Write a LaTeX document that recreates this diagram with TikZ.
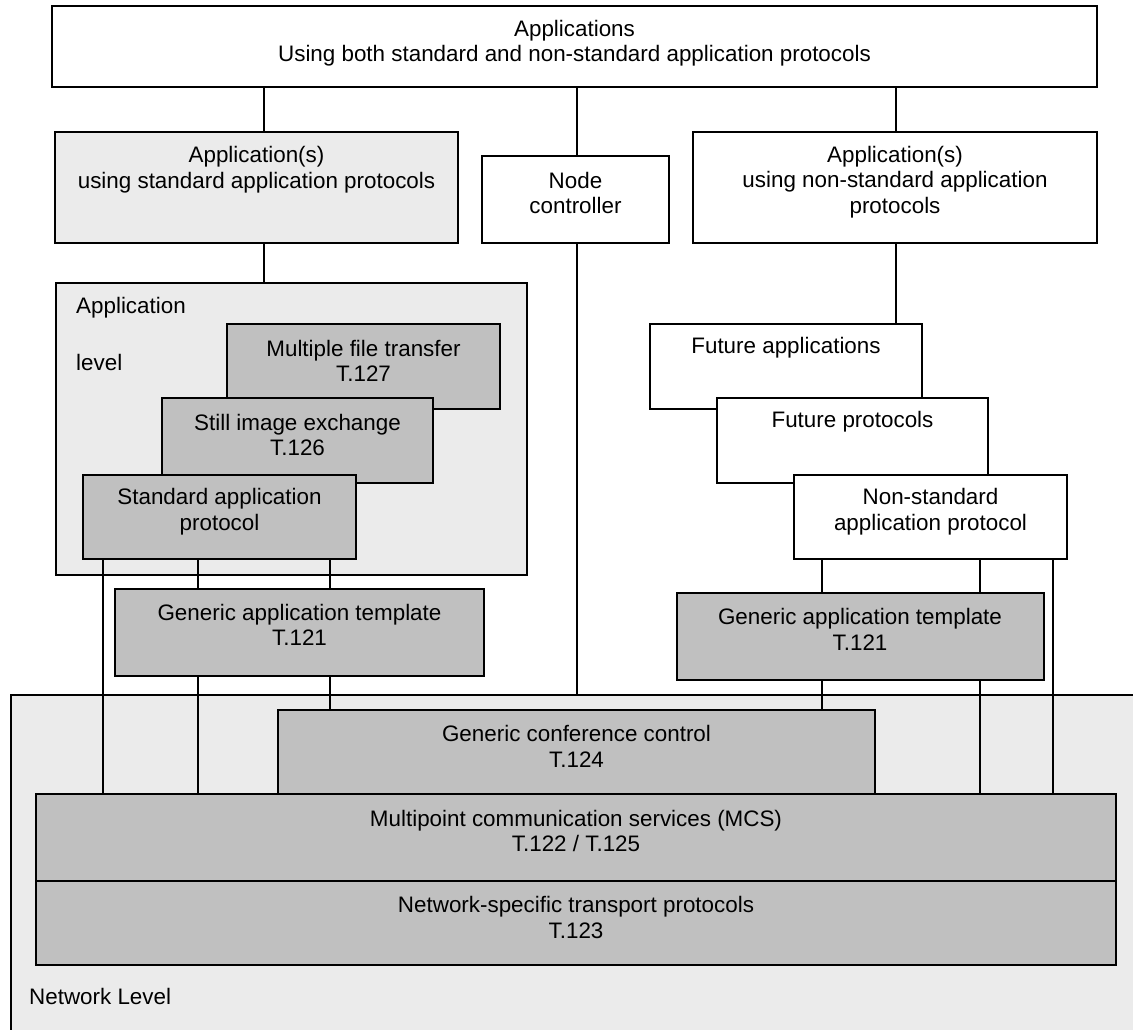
\documentclass[tikz,border=0pt]{standalone}
\usepackage{fontspec}
\setmainfont{Liberation Sans}
\definecolor{paleg}{HTML}{EBEBEB}
\definecolor{midg}{HTML}{C0C0C0}
\begin{document}
\begin{tikzpicture}[x=1pt,y=-1pt,
  box/.style={draw=black, line width=1.6pt, fill=white, inner sep=0pt, outer sep=0pt, anchor=north west},
  lite/.style={box, fill=paleg},
  dark/.style={box, fill=midg},
  txt/.style={font=\fontsize{22.4}{25.5}\selectfont, align=center, inner sep=0pt},
  link/.style={line width=1.6pt}]
\clip (0,0) rectangle (1133,1029);
\fill[white] (0,0) rectangle (1133,1029);

% columns used by the vertical connectors
\foreach \cx in {103,198,264,330,577,822,896,980,1053}
  \coordinate (X\cx) at (\cx,0);

% network level frame (runs off the right and bottom edges)
\node[lite, minimum width=1140pt, minimum height=360pt] (netlevel) at (11,695) {};
\node[txt, anchor=west] at (29,996) {Network Level};

% top row
\node[box, minimum width=1045pt, minimum height=81pt] (top) at (52,6) {};
\node[txt] at (574.5,43) {Applications\\Using both standard and non-standard application protocols};

\node[lite, minimum width=403pt, minimum height=111pt] (stdapp) at (55,132) {};
\node[txt] at (256.5,169.5) {Application(s)\\using standard application protocols};

\node[box, minimum width=187pt, minimum height=87pt] (nodectl) at (482,156) {};
\node[txt] at (575.5,193) {Node\\controller};

\node[box, minimum width=404pt, minimum height=111pt] (nsapp) at (693,132) {};
\node[txt] at (895,182) {Application(s)\\using non-standard application\\protocols};

% application level
\node[lite, minimum width=471pt, minimum height=292pt] (applevel) at (56,283) {};
\node[txt, anchor=west] at (76,308) {Application};
\node[txt, anchor=west] at (76,362) {level};

\node[dark, minimum width=273pt, minimum height=85pt] (mft) at (227,324) {};
\node[txt] at (363.5,361) {Multiple file transfer\\T.127};
\node[dark, minimum width=271pt, minimum height=85pt] (still) at (162,398) {};
\node[txt] at (297.5,435) {Still image exchange\\T.126};
\node[dark, minimum width=273pt, minimum height=84pt] (sap) at (83,475) {};
\node[txt] at (219.5,511.5) {Standard application\\protocol};

\node[dark, minimum width=369pt, minimum height=87pt] (gatl) at (115,589) {};
\node[txt] at (299.5,625) {Generic application template\\T.121};

% non-standard stack
\node[box, minimum width=272pt, minimum height=85pt] (fapp) at (650,324) {};
\node[txt] at (786,348) {Future applications};
\node[box, minimum width=271pt, minimum height=85pt] (fprot) at (717,398) {};
\node[txt] at (852.5,422) {Future protocols};
\node[box, minimum width=273pt, minimum height=84pt] (nsp) at (794,475) {};
\node[txt] at (930.5,511.5) {Non-standard\\application protocol};

\node[dark, minimum width=367pt, minimum height=87pt] (gatr) at (677,593) {};
\node[txt] at (860,629.5) {Generic application template\\T.121};

% network level stack
\node[dark, minimum width=597pt, minimum height=85pt] (gcc) at (278,710) {};
\node[txt] at (576.5,746.5) {Generic conference control\\T.124};
\node[dark, minimum width=1080pt, minimum height=87pt] (mcs) at (36,794) {};
\node[txt] at (576,831) {Multipoint communication services (MCS)\\T.122 / T.125};
\node[dark, minimum width=1080pt, minimum height=84pt] (nst) at (36,881) {};
\node[txt] at (576,917.5) {Network-specific transport protocols\\T.123};

% connectors
\draw[link] (top.south -| X264) -- (stdapp.north -| X264);
\draw[link] (top.south -| X577) -- (nodectl.north -| X577);
\draw[link] (top.south -| X896) -- (nsapp.north -| X896);
\draw[link] (stdapp.south -| X264) -- (applevel.north -| X264);
\draw[link] (nodectl.south -| X577) -- (netlevel.north -| X577);
\draw[link] (nsapp.south -| X896) -- (fapp.north -| X896);

\draw[link] (sap.south -| X103) -- (mcs.north -| X103);
\draw[link] (sap.south -| X198) -- (gatl.north -| X198);
\draw[link] (gatl.south -| X198) -- (mcs.north -| X198);
\draw[link] (sap.south -| X330) -- (gatl.north -| X330);
\draw[link] (gatl.south -| X330) -- (gcc.north -| X330);

\draw[link] (nsp.south -| X822) -- (gatr.north -| X822);
\draw[link] (gatr.south -| X822) -- (gcc.north -| X822);
\draw[link] (nsp.south -| X980) -- (gatr.north -| X980);
\draw[link] (gatr.south -| X980) -- (mcs.north -| X980);
\draw[link] (nsp.south -| X1053) -- (mcs.north -| X1053);
\end{tikzpicture}
\end{document}
